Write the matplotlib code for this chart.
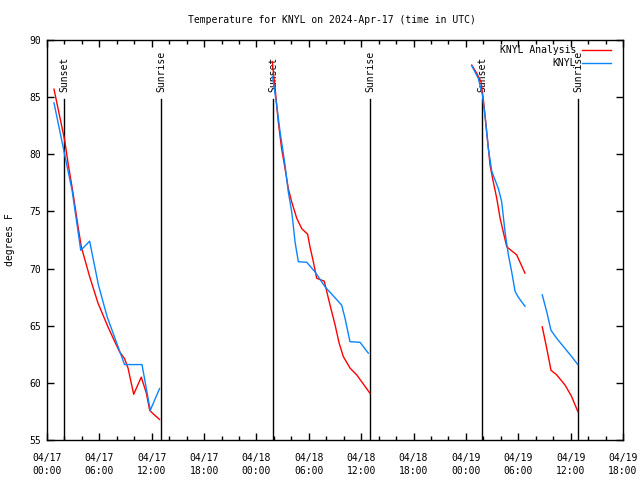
"""
Temperature analysis vs. observations for KNYL, with sunset/sunrise markers
"""
import numpy as np
import pandas as pd
import matplotlib
matplotlib.use('Agg')
import matplotlib.pyplot as plt
import matplotlib.dates as mdates

NAN = np.nan

# KNYL Analysis (red)
analysis_times = [
    '04-17 00:48', '04-17 02:02', '04-17 02:25', '04-17 02:59', '04-17 03:33',
    '04-17 03:56', '04-17 04:53', '04-17 05:50', '04-17 06:59', '04-17 07:46',
    '04-17 08:20', '04-17 08:54', '04-17 09:17', '04-17 09:56', '04-17 10:48',
    '04-17 11:23', '04-17 11:46', '04-17 12:09', '04-17 12:54',
    '04-17 20:00',
    '04-18 01:49', '04-18 02:08', '04-18 02:30', '04-18 02:53', '04-18 03:16',
    '04-18 03:39', '04-18 04:02', '04-18 04:37', '04-18 05:11', '04-18 05:52',
    '04-18 06:08', '04-18 06:31', '04-18 06:54', '04-18 07:46', '04-18 08:26',
    '04-18 09:00', '04-18 09:28', '04-18 09:57', '04-18 10:43', '04-18 11:29',
    '04-18 13:00',
    '04-18 20:00',
    '04-19 00:40', '04-19 01:14', '04-19 01:44', '04-19 01:59', '04-19 02:16',
    '04-19 02:30', '04-19 02:46', '04-19 03:08', '04-19 03:32', '04-19 03:55',
    '04-19 04:17', '04-19 04:41', '04-19 05:49', '04-19 06:46',
    '04-19 07:45',
    '04-19 08:45', '04-19 09:16', '04-19 09:45', '04-19 10:24', '04-19 11:22',
    '04-19 12:07', '04-19 12:49',
]
analysis_temps = [
    85.7, 81.2, 79.2, 76.6, 73.7,
    71.9, 69.3, 67.0, 64.9, 63.6,
    62.7, 62.1, 61.3, 59.0, 60.5,
    59.1, 57.6, 57.3, 56.8,
    NAN,
    88.1, 85.8, 82.85, 80.5, 78.8,
    77.0, 75.85, 74.4, 73.5, 73.0,
    71.9, 70.6, 69.15, 68.9, 66.8,
    65.1, 63.5, 62.3, 61.3, 60.7,
    59.1,
    NAN,
    87.8, 87.1, 86.35, 84.9, 82.85,
    81.1, 79.06, 77.6, 76.15, 74.4,
    73.2, 71.9, 71.2, 69.6,
    NAN,
    64.9, 63.0, 61.1, 60.7, 59.8,
    58.8, 57.5,
]

# KNYL observations (blue)
obs_times = [
    '04-17 00:48', '04-17 01:53', '04-17 02:53', '04-17 03:52', '04-17 04:08',
    '04-17 04:53', '04-17 05:53', '04-17 06:53', '04-17 07:53', '04-17 08:53',
    '04-17 09:53', '04-17 10:53', '04-17 11:50', '04-17 12:54',
    '04-17 20:00',
    '04-18 01:51', '04-18 02:19', '04-18 02:42', '04-18 03:16', '04-18 03:39',
    '04-18 04:02', '04-18 04:13', '04-18 04:25', '04-18 04:48', '04-18 05:46',
    '04-18 06:43', '04-18 07:52', '04-18 09:46', '04-18 10:09', '04-18 10:43',
    '04-18 11:52', '04-18 12:49',
    '04-18 20:00',
    '04-19 00:40', '04-19 01:25', '04-19 01:53', '04-19 02:11', '04-19 02:34',
    '04-19 02:58', '04-19 03:43', '04-19 04:06', '04-19 04:29', '04-19 04:52',
    '04-19 05:15', '04-19 05:38', '04-19 06:00', '04-19 06:46',
    '04-19 07:45',
    '04-19 08:45', '04-19 09:16', '04-19 09:45', '04-19 10:24', '04-19 11:22',
    '04-19 12:07', '04-19 12:49',
]
obs_temps = [
    84.5, 80.5, 76.8, 71.6, 71.8,
    72.4, 68.6, 65.8, 63.7, 61.6,
    61.6, 61.6, 57.6, 59.5,
    NAN,
    86.8, 84.3, 82.0, 79.1, 76.7,
    75.0, 73.8, 72.35, 70.6, 70.55,
    69.7, 68.4, 66.8, 65.65, 63.6,
    63.55, 62.6,
    NAN,
    87.75, 86.65, 85.2, 83.4, 80.5,
    78.5, 77.0, 75.85, 73.2, 71.2,
    69.7, 68.0, 67.5, 66.7,
    NAN,
    67.7, 66.2, 64.6, 63.9, 63.0,
    62.3, 61.6,
]

# sun events
sun_times = ['04-17 01:57', '04-17 13:04', '04-18 01:56',
             '04-18 13:03', '04-19 01:53', '04-19 12:53']
sun_labels = ['Sunset', 'Sunrise', 'Sunset', 'Sunrise', 'Sunset', 'Sunrise']


def to_dt(times):
    """
    Turn 'MM-DD HH:MM' strings into timestamps for 2024
    """
    return pd.to_datetime(['2024-' + t for t in times])


def main():
    font = 'DejaVu Sans Mono'
    fsize = 7
    plt.rcParams['font.family'] = font
    plt.rcParams['font.size'] = fsize

    fig = plt.figure(figsize=(6.4, 4.8), dpi=100)
    ax = fig.add_axes([47 / 640, 40 / 480, 576 / 640, 400 / 480])

    # sunset / sunrise markers
    for t, lab in zip(to_dt(sun_times), sun_labels):
        ax.plot([t, t], [55, 84.8], color='black', lw=1.0, zorder=1)
        ax.text(t, 85.45, lab, rotation=90, ha='center', va='bottom',
                fontsize=fsize)

    ax.plot(to_dt(analysis_times), analysis_temps, color='#ff0000', lw=1.0,
            label='KNYL Analysis', zorder=3)
    ax.plot(to_dt(obs_times), obs_temps, color='#0a84ff', lw=1.0,
            label='KNYL', zorder=3)

    ax.set_xlim(pd.Timestamp('2024-04-17 00:00'), pd.Timestamp('2024-04-19 18:00'))
    ax.set_ylim(55, 90)
    ax.set_yticks(range(55, 91, 5))

    ax.xaxis.set_major_locator(mdates.HourLocator(byhour=[0, 6, 12, 18]))
    ax.xaxis.set_minor_locator(mdates.HourLocator(byhour=range(0, 24, 2)))
    ax.xaxis.set_major_formatter(mdates.DateFormatter('%m/%d\n%H:%M'))

    ax.tick_params(which='both', direction='in', top=True, right=True,
                   width=1.0, labelsize=fsize)
    ax.tick_params(which='major', length=5, pad=4)
    ax.tick_params(which='minor', length=3)
    ax.tick_params(axis='x', which='major', pad=9.5)
    for lab in ax.get_xticklabels():
        lab.set_linespacing(1.35)
    for sp in ax.spines.values():
        sp.set_linewidth(1.0)

    ax.legend(loc='upper right', frameon=False, markerfirst=False,
              bbox_to_anchor=(611 / 640, 1 - 45 / 480),
              bbox_transform=fig.transFigure, borderaxespad=0, borderpad=0,
              handlelength=3.0, handletextpad=0.6, labelspacing=0.35,
              fontsize=fsize)

    fig.text(332 / 640, 1 - 20 / 480,
             'Temperature for KNYL on 2024-Apr-17 (time in UTC)',
             ha='center', va='center', fontsize=fsize)
    fig.text(10 / 640, 0.5, 'degrees F', rotation=90,
             ha='center', va='center', fontsize=fsize)

    fig.savefig('out.png', dpi=100)


if __name__ == "__main__":
    main()
